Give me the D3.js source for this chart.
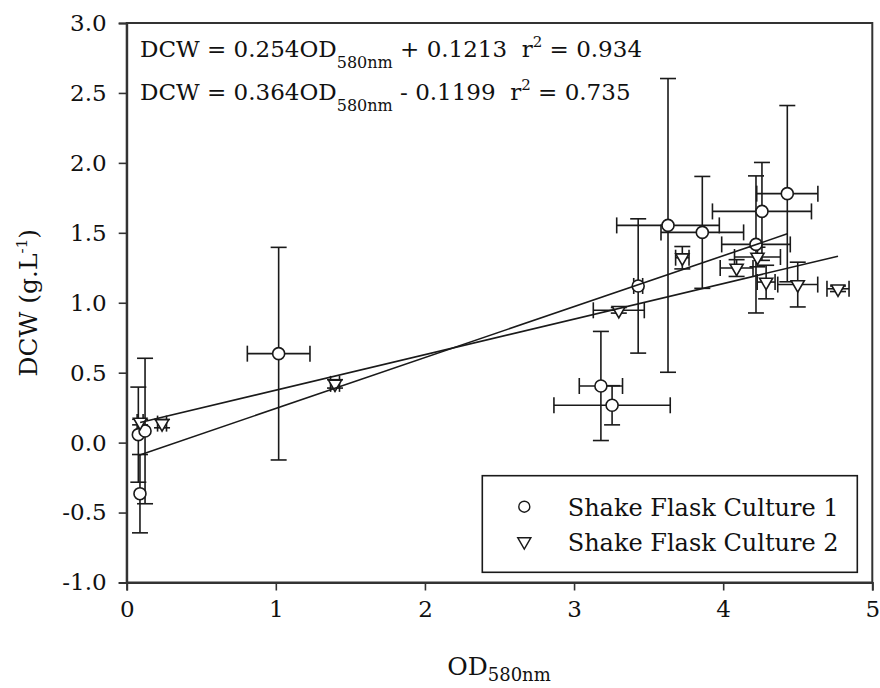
<!DOCTYPE html>
<html>
<head>
<meta charset="utf-8">
<script src="https://cdn.jsdelivr.net/npm/d3@7"></script>
<style>
body { margin: 0; background: #fff; }
text { font-family: "DejaVu Serif", serif; fill: #111; }
</style>
</head>
<body>
<div id="chart"></div>
<script>
const width = 880, height = 688;

// Shake flask culture 1 (circles)
const c1X    = [0.078, 0.123, 0.089, 1.019, 3.18, 3.255, 3.43, 3.63, 3.86, 4.22, 4.26, 4.43];
const c1Y    = [0.057, 0.083, -0.365, 0.636, 0.405, 0.267, 1.12, 1.553, 1.503, 1.417, 1.653, 1.78];
const c1XErr = [0, 0, 0, 0.21, 0.145, 0.39, 0.03, 0.344, 0.277, 0.23, 0.332, 0.205];
const c1YErr = [0.34, 0.52, 0.28, 0.76, 0.39, 0.14, 0.48, 1.05, 0.40, 0.49, 0.35, 0.63];

// Shake flask culture 2 (triangles)
const c2X    = [0.09, 0.237, 1.397, 3.30, 3.726, 4.09, 4.23, 4.288, 4.50, 4.77];
const c2Y    = [0.147, 0.136, 0.42, 0.946, 1.322, 1.248, 1.327, 1.148, 1.13, 1.10];
const c2XErr = [0.02, 0.03, 0.03, 0.171, 0.045, 0.11, 0.154, 0.06, 0.134, 0.074];
const c2YErr = [0.02, 0.03, 0.03, 0.02, 0.08, 0.06, 0.07, 0.12, 0.16, 0.02];

// linear fits
const fitSlope     = [0.254, 0.364];
const fitIntercept = [0.1213, -0.1199];
const fitR2        = [0.934, 0.735];
const fitFrom      = [0.09, 0.078];
const fitTo        = [4.77, 4.43];

const xTicks = [0, 1, 2, 3, 4, 5];
const yTicks = [-1.0, -0.5, 0.0, 0.5, 1.0, 1.5, 2.0, 2.5, 3.0];
const legendLabels = ["Shake Flask Culture 1", "Shake Flask Culture 2"];

const svg = d3.select("#chart").append("svg")
    .attr("width", width)
    .attr("height", height);

const x = d3.scaleLinear().domain([0, 5]).range([126.7, 872.3]);
const y = d3.scaleLinear().domain([-1, 3]).range([582.5, 23]);

const ink = "#1a1a1a";
const fmtY = d => d3.format(".1f")(d).replace("−", "-");

// frame
svg.append("rect")
    .attr("x", x(0)).attr("y", y(3))
    .attr("width", x(5) - x(0)).attr("height", y(-1) - y(3))
    .attr("fill", "none").attr("stroke", "#333").attr("stroke-width", 2);

// axes
const xAxis = svg.append("g")
    .attr("transform", `translate(0,${y(-1)})`)
    .call(d3.axisBottom(x).tickValues(xTicks).tickSize(8).tickPadding(10).tickFormat(d3.format("d")));
const yAxis = svg.append("g")
    .attr("transform", `translate(${x(0)},0)`)
    .call(d3.axisLeft(y).tickValues(yTicks).tickSize(8).tickPadding(12).tickFormat(fmtY));
[xAxis, yAxis].forEach(a => {
    a.select(".domain").attr("stroke", "#333").attr("stroke-width", 2);
    a.selectAll(".tick line").attr("stroke", "#333").attr("stroke-width", 1.6);
    a.selectAll(".tick text")
        .style("font-family", "DejaVu Serif, serif")
        .style("font-size", "23px").attr("fill", ink);
});

// error bars
const cap = 8;
function errorBars(xs, ys, xe, ye) {
    const g = svg.append("g").attr("stroke", ink).attr("stroke-width", 1.6);
    xs.forEach((v, i) => {
        const px = x(v), py = y(ys[i]);
        if (xe[i] > 0) {
            const l = x(v - xe[i]), r = x(v + xe[i]);
            g.append("line").attr("x1", l).attr("x2", r).attr("y1", py).attr("y2", py);
            g.append("line").attr("x1", l).attr("x2", l).attr("y1", py - cap).attr("y2", py + cap);
            g.append("line").attr("x1", r).attr("x2", r).attr("y1", py - cap).attr("y2", py + cap);
        }
        if (ye[i] > 0) {
            const t = y(ys[i] + ye[i]), b = y(ys[i] - ye[i]);
            g.append("line").attr("x1", px).attr("x2", px).attr("y1", t).attr("y2", b);
            g.append("line").attr("x1", px - cap).attr("x2", px + cap).attr("y1", t).attr("y2", t);
            g.append("line").attr("x1", px - cap).attr("x2", px + cap).attr("y1", b).attr("y2", b);
        }
    });
}
errorBars(c1X, c1Y, c1XErr, c1YErr);
errorBars(c2X, c2Y, c2XErr, c2YErr);

// markers
const tri = d3.symbol().type(d3.symbolTriangle).size(75);
svg.append("g").selectAll("circle")
    .data(c1X)
    .join("circle")
    .attr("cx", d => x(d))
    .attr("cy", (d, i) => y(c1Y[i]))
    .attr("r", 6)
    .attr("fill", "#fff").attr("stroke", ink).attr("stroke-width", 1.6);
svg.append("g").selectAll("path")
    .data(c2X)
    .join("path")
    .attr("d", tri)
    .attr("transform", (d, i) => `translate(${x(d)},${y(c2Y[i])}) rotate(180)`)
    .attr("fill", "#fff").attr("stroke", ink).attr("stroke-width", 1.6);

// fit lines
fitSlope.forEach((m, i) => {
    svg.append("line")
        .attr("x1", x(fitFrom[i])).attr("y1", y(m * fitFrom[i] + fitIntercept[i]))
        .attr("x2", x(fitTo[i])).attr("y2", y(m * fitTo[i] + fitIntercept[i]))
        .attr("stroke", ink).attr("stroke-width", 1.6);
});

// equations
fitSlope.forEach((m, i) => {
    const b = fitIntercept[i];
    const t = svg.append("text")
        .attr("x", 140).attr("y", 57 + i * 42.5)
        .style("font-size", "23px");
    t.append("tspan").text(`DCW = ${m.toFixed(3)}OD`);
    t.append("tspan").attr("dy", 11).style("font-size", "16px").text("580nm");
    t.append("tspan").attr("dy", -11)
        .text(` ${b < 0 ? "-" : "+"} ${Math.abs(b).toFixed(4)}\u00a0\u00a0r`);
    t.append("tspan").attr("dy", -10).style("font-size", "15px").text("2");
    t.append("tspan").attr("dy", 10).text(` = ${fitR2[i].toFixed(3)}`);
});

// axis titles
const xt = svg.append("text")
    .attr("x", 499).attr("y", 675)
    .attr("text-anchor", "middle")
    .style("font-size", "25px");
xt.append("tspan").text("OD");
xt.append("tspan").attr("dy", 6).style("font-size", "18px").text("580nm");

const yt = svg.append("text")
    .attr("transform", `translate(37,${(y(3) + y(-1)) / 2}) rotate(-90)`)
    .attr("text-anchor", "middle")
    .style("font-size", "25px");
yt.append("tspan").text("DCW (g.L");
yt.append("tspan").attr("dy", -10).style("font-size", "15px").text("-1");
yt.append("tspan").attr("dy", 10).text(")");

// legend
const lg = svg.append("g");
lg.append("rect")
    .attr("x", 482.3).attr("y", 475.7).attr("width", 375).attr("height", 96.6)
    .attr("fill", "#fff").attr("stroke", ink).attr("stroke-width", 1.6);
lg.append("circle")
    .attr("cx", 524.3).attr("cy", 506.7).attr("r", 5.5)
    .attr("fill", "#fff").attr("stroke", ink).attr("stroke-width", 1.4);
lg.append("path")
    .attr("d", tri)
    .attr("transform", "translate(524.3,541.5) rotate(180)")
    .attr("fill", "#fff").attr("stroke", ink).attr("stroke-width", 1.4);
lg.selectAll("text.lab")
    .data(legendLabels)
    .join("text")
    .attr("class", "lab")
    .attr("x", 567.7)
    .attr("y", (d, i) => 515.5 + i * 35.5)
    .style("font-size", "24px")
    .text(d => d);
</script>
</body>
</html>
